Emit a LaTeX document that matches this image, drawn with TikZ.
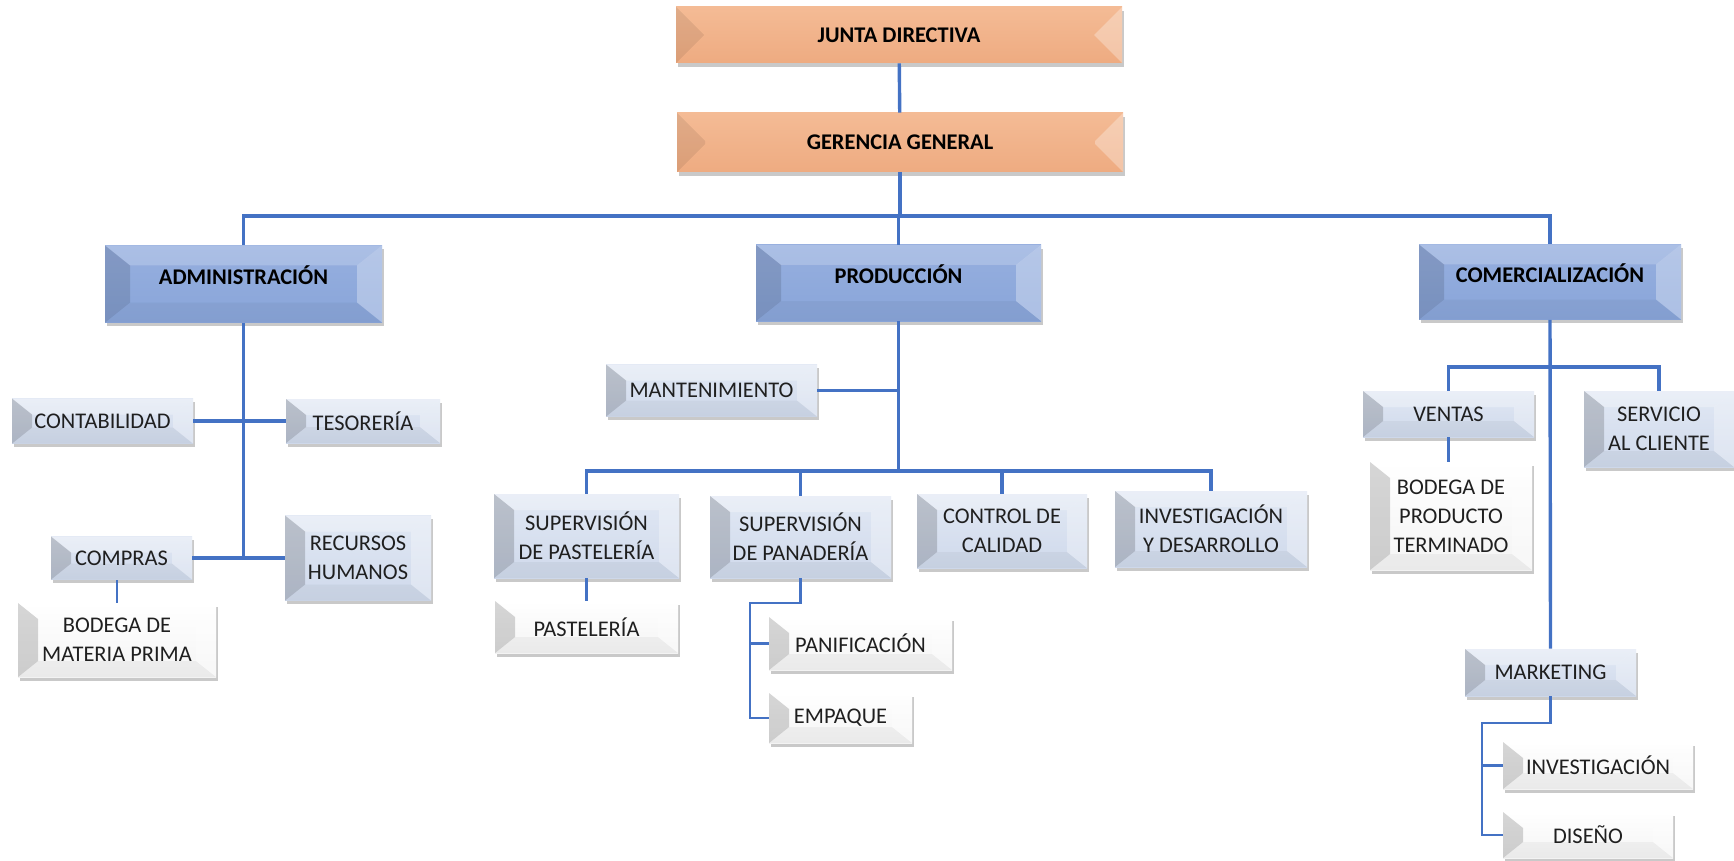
\documentclass[tikz,border=0pt]{standalone}
\usepackage{fontspec}
\setmainfont{Carlito}
\usepackage{tikz}
\usetikzlibrary{shadows}

\definecolor{linkblue}{HTML}{4472C4}
\definecolor{orangetop}{HTML}{F4BB95}
\definecolor{orangebot}{HTML}{EEAB81}
\definecolor{bluetop}{HTML}{96AFDF}
\definecolor{bluebot}{HTML}{89A5D9}
\definecolor{paletop}{HTML}{E1E8F4}
\definecolor{palebot}{HTML}{CFD9EB}
\definecolor{whitetop}{HTML}{FFFFFF}
\definecolor{whitebot}{HTML}{F4F4F4}

\newcommand\bvx{10pt}
\newcommand\bvy{8pt}
\newcommand\opL{0.15}
\newcommand\opT{0.3}
\newcommand\opB{0.04}

\tikzset{
  bevel size/.code 2 args={\def\bvx{#1}\def\bvy{#2}},
  side shade/.code={\def\opL{#1}},
  top glow/.code={\def\opT{#1}},
  bottom dim/.code={\def\opB{#1}},
  bevelled/.style={path picture={
      \coordinate (bsw) at (path picture bounding box.south west);
      \coordinate (bne) at (path picture bounding box.north east);
      \coordinate (bnw) at (bsw |- bne);
      \coordinate (bse) at (bne |- bsw);
      \fill[white, fill opacity=\opT] (bnw) -- (bne) -- ([shift={(-\bvx,-\bvy)}]bne) -- ([shift={(\bvx,-\bvy)}]bnw) -- cycle;
      \fill[black, fill opacity=\opB] (bsw) -- (bse) -- ([shift={(-\bvx,\bvy)}]bse) -- ([shift={(\bvx,\bvy)}]bsw) -- cycle;
      \fill[black, fill opacity=\opL] (bsw) -- (bnw) -- ([shift={(\bvx,-\bvy)}]bnw) -- ([shift={(\bvx,\bvy)}]bsw) -- cycle;
      \fill[white, fill opacity=0.3] (bse) -- (bne) -- ([shift={(-\bvx,-\bvy)}]bne) -- ([shift={(-\bvx,\bvy)}]bse) -- cycle;
  }},
  wh/.style 2 args={minimum width=#1pt, minimum height=#2pt},
  box/.style={inner sep=1pt, align=center, text=black!88,
    font=\fontsize{11.2}{14.5}\selectfont, bevelled,
    drop shadow={shadow xshift=1.2pt, shadow yshift=-1.8pt, opacity=0.3, fill=black!70}},
  toplvl/.style={box, top color=orangetop, bottom color=orangebot,
    bevel size={14pt}{14pt}, side shade=0.08, top glow=0, bottom dim=0, text=black,
    font=\fontsize{11.2}{14.5}\selectfont\bfseries},
  deptlvl/.style={box, top color=bluetop, bottom color=bluebot,
    bevel size={12.5pt}{10pt}, side shade=0.12, top glow=0.2, text=black, text depth=9pt,
    font=\fontsize{11.2}{14.5}\selectfont\bfseries},
  unitlvl/.style={box, top color=paletop, bottom color=palebot,
    bevel size={10pt}{8pt}, side shade=0.17},
  leaflvl/.style={box, top color=whitetop, bottom color=whitebot,
    bevel size={10pt}{8pt}, side shade=0.16},
  conn/.style={draw=linkblue, line width=1.7pt},
  subconn/.style={draw=linkblue, line width=1.35pt}
}

\begin{document}
\begin{tikzpicture}[x=0.5pt, y=-0.5pt]
\useasboundingbox (0,0) rectangle (1734,861);

\node[toplvl, wh={223}{28}] (junta) at (899,35) {JUNTA DIRECTIVA};
\node[toplvl, wh={223}{29.5}] (gerencia) at (900,142.5) {GERENCIA GENERAL};

\node[deptlvl, wh={138.5}{38.5}] (admin) at (243.5,284) {ADMINISTRACIÓN};
\node[deptlvl, wh={142.5}{38}] (produccion) at (898.5,283) {PRODUCCIÓN};
\node[deptlvl, wh={131}{37.5}] (comerc) at (1550,282) {COMERCIALIZACIÓN};

\node[unitlvl, wh={90.5}{22.5}] (conta) at (102.5,421) {CONTABILIDAD};
\node[unitlvl, wh={77}{22}] (teso) at (363,421) {TESORERÍA};
\node[unitlvl, wh={70.5}{21.5}] (compras) at (121.5,558) {COMPRAS};
\node[unitlvl, wh={73}{42.5}] (rrhh) at (358,558) {RECURSOS\\HUMANOS};
\node[leaflvl, wh={99}{37}] (bodmp) at (117,640) {BODEGA DE\\MATERIA PRIMA};

\node[unitlvl, wh={105.5}{26}] (mant) at (711.5,390.5) {MANTENIMIENTO};
\node[unitlvl, wh={92.5}{42}] (suppast) at (586.5,536) {SUPERVISIÓN\\DE PASTELERÍA};
\node[unitlvl, wh={90.5}{41}] (suppan) at (800.5,537) {SUPERVISIÓN\\DE PANADERÍA};
\node[unitlvl, wh={85}{37}] (control) at (1002,531) {CONTROL DE\\CALIDAD};
\node[unitlvl, wh={96}{38}] (invdes) at (1211,529) {INVESTIGACIÓN\\Y DESARROLLO};
\node[leaflvl, wh={91.5}{26}] (past) at (586.5,627) {PASTELERÍA};
\node[leaflvl, wh={91.5}{26.5}] (panif) at (860.5,643.5) {PANIFICACIÓN};
\node[leaflvl, wh={71.5}{25}] (empaque) at (840.5,718) {EMPAQUE};

\node[unitlvl, wh={85.5}{23}] (ventas) at (1448.5,414) {VENTAS};
\node[unitlvl, wh={75}{38}] (servicio) at (1659,429) {SERVICIO\\AL CLIENTE};
\node[leaflvl, wh={81}{54}] (bodpt) at (1451,516) {BODEGA DE\\PRODUCTO\\TERMINADO};
\node[unitlvl, wh={85.5}{23.5}] (mkt) at (1550.5,672.5) {MARKETING};
\node[leaflvl, wh={95}{23.5}] (invest) at (1598,765.5) {INVESTIGACIÓN};
\node[leaflvl, wh={85}{23}] (diseno) at (1588,835) {DISEÑO};

\coordinate (busA) at (0,216);
\coordinate (busP) at (0,471);
\coordinate (busC) at (0,367);
\coordinate (panbend) at (750,603);
\coordinate (mktbend) at (1482,723);

\draw[conn] (junta) -- (gerencia);
\draw[conn] (gerencia.south) -- (gerencia.south |- busA);
\draw[conn] (admin.north) |- (gerencia.south |- busA) -| (comerc.north);
\draw[conn] (produccion.north) -- (produccion.north |- busA);

\draw[conn] (admin.south) -- (admin.south |- rrhh.west);
\draw[conn] (conta.east) -- (teso.west);
\draw[conn] (compras.east) -- (rrhh.west);
\draw[subconn] (bodmp.north) -- (bodmp.north |- compras.south);

\draw[conn] (produccion.south) -- (produccion.south |- busP);
\draw[subconn] (mant.east) -- (mant.east -| produccion.south);
\draw[conn] (suppast.north) |- (invdes.north |- busP) -- (invdes.north);
\draw[conn] (suppan.north) -- (suppan.north |- busP);
\draw[conn] (control.north) -- (control.north |- busP);
\draw[subconn] (suppast.south) -- (past.north);
\draw[subconn] (suppan.south) |- (panbend) |- (empaque.west);
\draw[subconn] (panbend |- panif.west) -- (panif.west);

\draw[conn] (comerc.south) -- (mkt.north);
\draw[conn] (ventas.north) |- (comerc.south |- busC) -| (servicio.north);
\draw[conn] (ventas.south) -- (ventas.south |- bodpt.north);
\draw[subconn] (mkt.south) |- (mktbend) |- (diseno.west);
\draw[subconn] (mktbend |- invest.west) -- (invest.west);
\end{tikzpicture}
\end{document}
